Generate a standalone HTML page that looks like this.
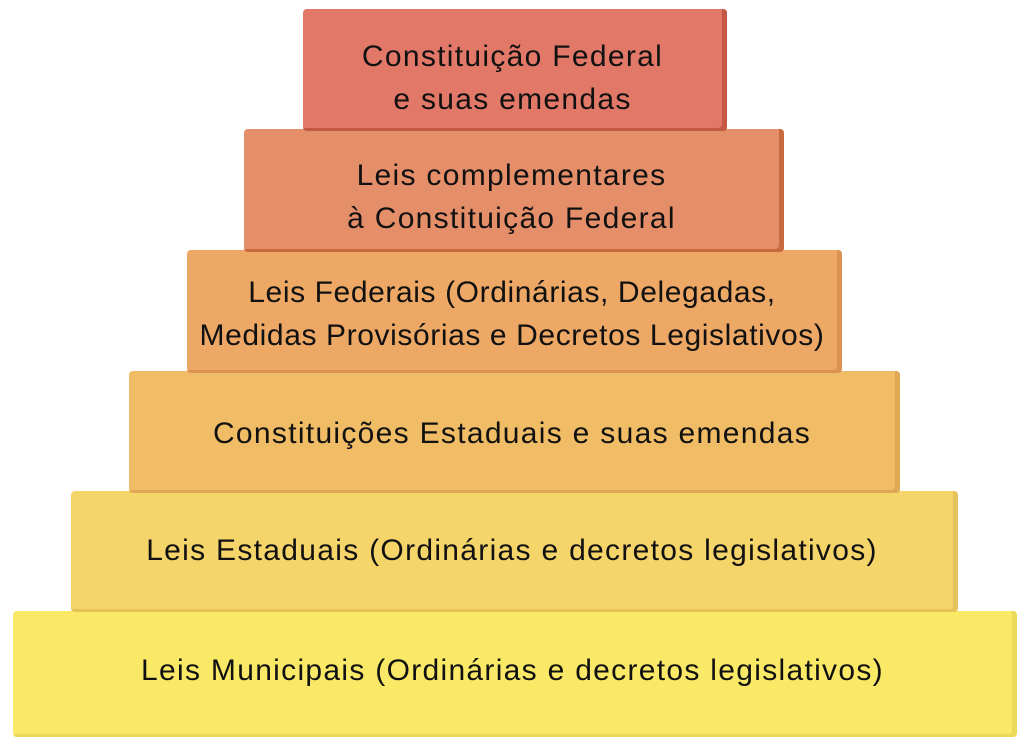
<!DOCTYPE html>
<html><head><meta charset="utf-8"><style>
body{margin:0;width:1030px;height:748px;background:#fff;position:relative;overflow:hidden;font-family:"Liberation Sans",sans-serif;}
.b{position:absolute;border-radius:4px;display:flex;align-items:center;justify-content:center;text-align:center;color:#111;font-size:30px;letter-spacing:1.3px;line-height:43px;box-sizing:border-box;padding-right:5px;white-space:nowrap}
</style></head><body>
<div class="b" style="left:13px;top:611px;width:1004px;height:126px;background:#f9e967;box-shadow:inset -5px -3px 0 #ecd95a;padding-bottom:8px">Leis Municipais (Ordinárias e decretos legislativos)</div>
<div class="b" style="left:71px;top:491px;width:887px;height:121px;background:#f5d56a;box-shadow:inset -5px -3px 0 #e6c35a;padding-bottom:2px">Leis Estaduais (Ordinárias e decretos legislativos)</div>
<div class="b" style="left:129px;top:371px;width:771px;height:122px;background:#f0bc65;box-shadow:inset -5px -3px 0 #e0a855;padding-top:2px">Constituições Estaduais e suas emendas</div>
<div class="b" style="left:187px;top:250px;width:655px;height:123px;background:#eda866;box-shadow:inset -5px -3px 0 #dc9352;letter-spacing:0.6px;padding-top:4px">Leis Federais (Ordinárias, Delegadas,<br>Medidas Provisórias e Decretos Legislativos)</div>
<div class="b" style="left:244px;top:129px;width:540px;height:123px;background:#e58e6a;box-shadow:inset -5px -3px 0 #c9693f;padding-top:12px">Leis complementares<br>à Constituição Federal</div>
<div class="b" style="left:303px;top:9px;width:424px;height:122px;background:#e27868;box-shadow:inset -5px -3px 0 #c35845;padding-top:16px">Constituição Federal<br>e suas emendas</div>
</body></html>
